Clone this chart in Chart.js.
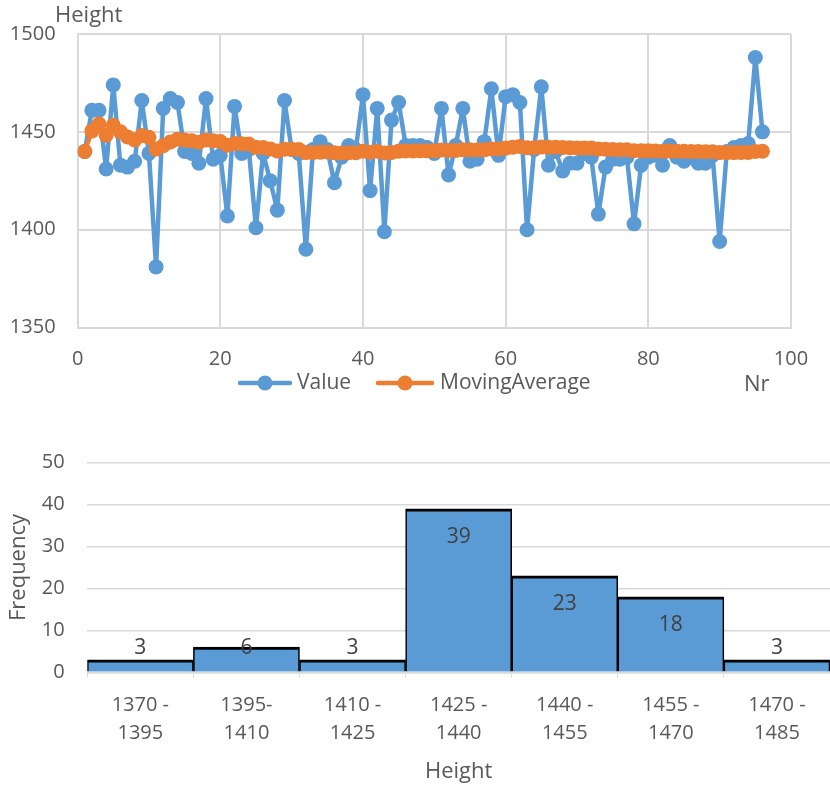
<!DOCTYPE html>
<html><head><meta charset="utf-8">
<script src="https://cdn.jsdelivr.net/npm/chart.js@4.4.1/dist/chart.umd.min.js"></script>
<style>
html,body{margin:0;padding:0;background:#fff;}
#wrap{position:relative;width:830px;height:785px;overflow:hidden;}
#c1{position:absolute;left:0;top:0;}
#c2{position:absolute;left:0;top:400px;}
</style></head><body>
<div id="wrap"><canvas id="c1" width="830" height="400"></canvas><canvas id="c2" width="830" height="385"></canvas></div>
<script>
// ---- data: line chart ----
const nr = [1,2,3,4,5,6,7,8,9,10,11,12,13,14,15,16,17,18,19,20,21,22,23,24,25,26,27,28,29,30,31,32,33,34,35,36,37,38,39,40,41,42,43,44,45,46,47,48,49,50,51,52,53,54,55,56,57,58,59,60,61,62,63,64,65,66,67,68,69,70,71,72,73,74,75,76,77,78,79,80,81,82,83,84,85,86,87,88,89,90,91,92,93,94,95,96];
const values = [1440,1461,1461,1431,1474,1433,1432,1435,1466,1439,1381,1462,1467,1465,1440,1439,1434,1467,1436,1438,1407,1463,1439,1441,1401,1439,1425,1410,1466,1441,1439,1390,1441,1445,1441,1424,1437,1443,1441,1469,1420,1462,1399,1456,1465,1443,1443,1443,1442,1439,1462,1428,1443,1462,1435,1436,1445,1472,1438,1468,1469,1465,1400,1441,1473,1433,1440,1430,1434,1434,1439,1437,1408,1432,1436,1436,1437,1403,1433,1437,1438,1433,1443,1437,1435,1437,1434,1434,1438,1394,1440,1442,1443,1444,1488,1450];
const movingAverage = [1440.0,1450.5,1454.0,1448.3,1453.4,1450.0,1447.4,1445.9,1448.1,1447.2,1441.2,1442.9,1444.8,1446.2,1445.8,1445.4,1444.7,1445.9,1445.4,1445.1,1443.2,1444.1,1443.9,1443.8,1442.1,1442.0,1441.3,1440.2,1441.1,1441.1,1441.0,1439.4,1439.5,1439.6,1439.7,1439.3,1439.2,1439.3,1439.3,1440.1,1439.6,1440.1,1439.2,1439.5,1440.1,1440.2,1440.2,1440.3,1440.3,1440.3,1440.7,1440.5,1440.5,1440.9,1440.8,1440.7,1440.8,1441.3,1441.3,1441.7,1442.2,1442.5,1441.9,1441.9,1442.3,1442.2,1442.2,1442.0,1441.9,1441.8,1441.7,1441.7,1441.2,1441.1,1441.0,1440.9,1440.9,1440.4,1440.3,1440.3,1440.2,1440.1,1440.2,1440.1,1440.1,1440.0,1440.0,1439.9,1439.9,1439.4,1439.4,1439.4,1439.5,1439.5,1440.0,1440.1];
// ---- data: histogram ----
const binLabels = [['1370 -','1395'],['1395-','1410'],['1410 -','1425'],['1425 -','1440'],['1440 -','1455'],['1455 -','1470'],['1470 -','1485']];
const freq = [3,6,3,39,23,18,3];

const BLUE = '#5B9BD5', ORANGE = '#ED7D31', TXT = '#595959', GRID = '#d9d9d9';
const F = '"Open Sans", "Noto Sans", sans-serif';

const topDecor = {
  id: 'topDecor',
  afterDraw(chart) {
    const ctx = chart.ctx;
    ctx.save();
    ctx.font = '22px ' + F;
    ctx.fillStyle = TXT;
    ctx.textBaseline = 'middle';
    ctx.textAlign = 'left';
    ctx.fillText('Height', 55, 16);
    ctx.fillText('Nr', 744, 385);
    const items = [
      {ds: 0, x1: 240, x2: 290, tx: 297},
      {ds: 1, x1: 378, x2: 432, tx: 440}
    ];
    const ly = 383;
    items.forEach(it => {
      const d = chart.data.datasets[it.ds];
      ctx.strokeStyle = d.borderColor;
      ctx.lineWidth = 4.5;
      ctx.lineCap = 'round';
      ctx.beginPath(); ctx.moveTo(it.x1, ly); ctx.lineTo(it.x2, ly); ctx.stroke();
      ctx.fillStyle = d.backgroundColor;
      ctx.beginPath(); ctx.arc((it.x1 + it.x2) / 2, ly, 7.5, 0, Math.PI * 2); ctx.fill();
      ctx.fillStyle = TXT;
      ctx.font = '21px ' + F;
      ctx.fillText(d.label, it.tx, ly);
    });
    ctx.restore();
  }
};

const plain = v => String(v);

new Chart(document.getElementById('c1'), {
  type: 'scatter',
  data: {
    datasets: [
      {label: 'Value', data: nr.map((x, i) => ({x: x, y: values[i]})), showLine: true,
       borderColor: BLUE, backgroundColor: BLUE, borderWidth: 4.5, borderJoinStyle: 'round', borderCapStyle: 'round',
       pointRadius: 7.5, pointHoverRadius: 7.5, pointBorderWidth: 0, order: 2},
      {label: 'MovingAverage', data: nr.map((x, i) => ({x: x, y: movingAverage[i]})), showLine: true,
       borderColor: ORANGE, backgroundColor: ORANGE, borderWidth: 4.5, borderJoinStyle: 'round', borderCapStyle: 'round',
       pointRadius: 7.5, pointHoverRadius: 7.5, pointBorderWidth: 0, order: 1}
    ]
  },
  options: {
    responsive: false, animation: false, devicePixelRatio: 1,
    layout: {padding: {left: 0, right: 39, top: 30, bottom: 0}},
    plugins: {legend: {display: false}, tooltip: {enabled: false}},
    scales: {
      x: {type: 'linear', min: 0, max: 100,
          ticks: {stepSize: 20, color: TXT, font: {family: F, size: 20}, padding: 20, callback: plain},
          grid: {color: GRID, lineWidth: 2, drawTicks: false},
          border: {color: GRID, width: 2},
          afterFit(s) { s.height = 72.4; }},
      y: {min: 1350, max: 1500,
          ticks: {stepSize: 50, color: TXT, font: {family: F, size: 20}, padding: 22, callback: plain},
          grid: {color: GRID, lineWidth: 2, drawTicks: false},
          border: {color: GRID, width: 2},
          afterFit(s) { s.width = 77.6; }}
    }
  },
  plugins: [topDecor]
});

const barLabels = {
  id: 'barLabels',
  afterDatasetsDraw(chart) {
    const ctx = chart.ctx;
    const meta = chart.getDatasetMeta(0);
    const base = chart.scales.y.getPixelForValue(0);
    ctx.save();
    ctx.font = '21px ' + F;
    ctx.fillStyle = '#404040';
    ctx.textAlign = 'center';
    ctx.textBaseline = 'middle';
    meta.data.forEach((bar, i) => {
      const y = Math.min(bar.y + 28, base - 24.3);
      ctx.fillText(String(freq[i]), bar.x, y);
    });
    ctx.restore();
  }
};

new Chart(document.getElementById('c2'), {
  type: 'bar',
  data: {
    labels: binLabels,
    datasets: [{label: 'Frequency', data: freq, backgroundColor: BLUE, borderColor: '#000000',
      borderWidth: {top: 3, left: 1.6, right: 1.6, bottom: 0}, borderSkipped: 'bottom',
      barPercentage: 1, categoryPercentage: 1}]
  },
  options: {
    responsive: false, animation: false, devicePixelRatio: 1,
    layout: {padding: {left: 0, right: 0, top: 62.7, bottom: 0}},
    plugins: {legend: {display: false}, tooltip: {enabled: false}},
    scales: {
      x: {grid: {display: true, drawOnChartArea: false, drawTicks: true, tickLength: 5, color: GRID, offset: true},
          border: {color: GRID, width: 1.5},
          ticks: {color: TXT, font: {family: F, size: 20, lineHeight: 1.4}, padding: 13.7, maxRotation: 0, autoSkip: false},
          title: {display: true, text: 'Height', color: TXT, font: {family: F, size: 22}, padding: {top: 0, bottom: 0.1}},
          afterFit(s) { s.height = 112.7; }},
      y: {min: 0, max: 50,
          ticks: {stepSize: 10, color: TXT, font: {family: F, size: 20}, padding: 22.7},
          grid: {color: GRID, lineWidth: 1.5, drawTicks: false},
          border: {display: false},
          title: {display: true, text: 'Frequency', color: TXT, font: {family: F, size: 22}, padding: {top: 5.3, bottom: 0}},
          afterFit(s) { s.width = 87.3; }}
    }
  },
  plugins: [barLabels]
});
</script>
</body></html>
